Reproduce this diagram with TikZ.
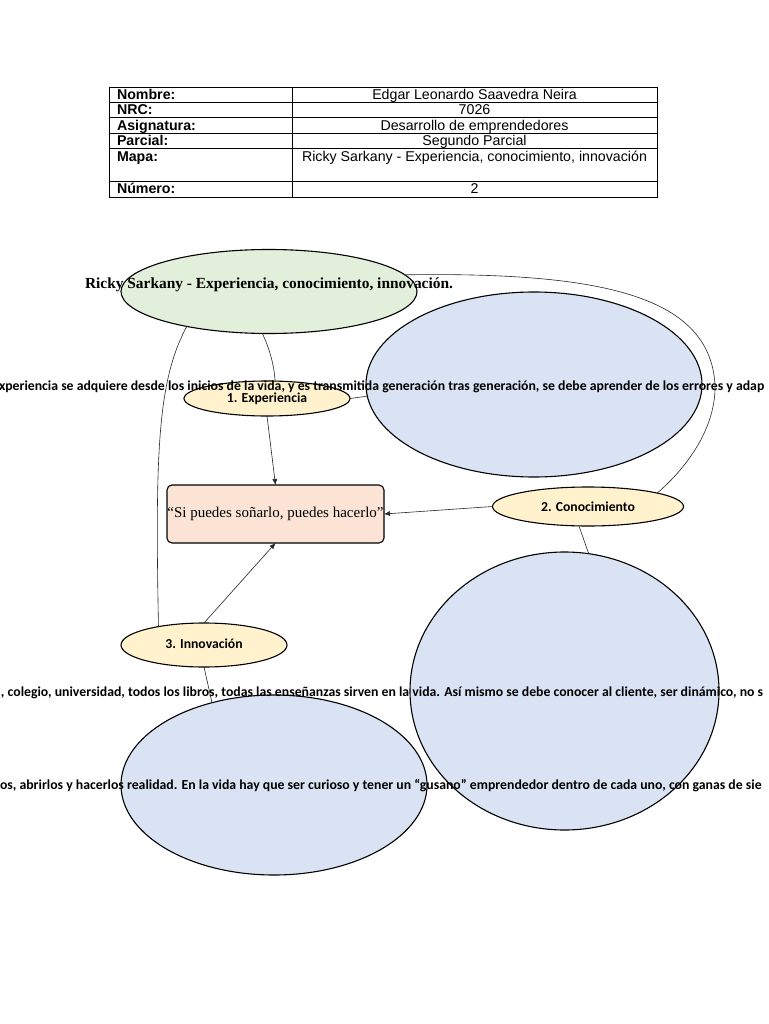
\documentclass[tikz,border=0pt]{standalone}
\usepackage{fontspec}
\setmainfont{Liberation Serif}
\newfontfamily\carl{Carlito}
\newfontfamily\arialf{Liberation Sans}
\usetikzlibrary{shapes.geometric,arrows.meta}
\definecolor{titlegreen}{HTML}{E2EFDA}
\definecolor{blueell}{HTML}{DAE3F3}
\definecolor{yellowell}{HTML}{FFF2CC}
\definecolor{peach}{HTML}{FBE4D5}
\begin{document}
\begin{tikzpicture}[x=1pt,y=-1pt,
  every node/.style={inner sep=0pt, outer sep=0pt},
  ell/.style={ellipse, draw=black, line width=1.1pt},
  bigell/.style={ell, fill=blueell},
  labell/.style={ell, fill=yellowell, font=\carl\bfseries\fontsize{13.7}{15}\selectfont},
  tlab/.style={anchor=base west, font=\arialf\bfseries\fontsize{14.2}{16}\selectfont},
  tval/.style={anchor=base, font=\arialf\fontsize{14.2}{16}\selectfont},
  bodytext/.style={anchor=west, font=\carl\bfseries\fontsize{13.76}{15}\selectfont},
  conn/.style={draw=black!85, line width=0.6pt},
  arr/.style={conn, -{Latex[length=6pt,width=5pt]}}]
\useasboundingbox (0,0) rectangle (768,1024);
\clip (0,0) rectangle (768,1024);
\fill[white] (0,0) rectangle (768,1024);

% table
\draw[line width=0.8pt] (109,87) rectangle (657,197);
\foreach \yy in {102,117,133,148,181} \draw[line width=0.8pt] (109,\yy) -- (657,\yy);
\draw[line width=0.8pt] (292,87) -- (292,197);
\node[tlab] (l1) at (117,99.5) {Nombre:};
\node[tlab] (l2) at (117,114.5) {NRC:};
\node[tlab] (l3) at (117,130.5) {Asignatura:};
\node[tlab] (l4) at (117,145.5) {Parcial:};
\node[tlab] (l5) at (117,161.5) {Mapa:};
\node[tlab] (l6) at (117,194) {Número:};
\node[tval] (v1) at (474.5,99.5) {Edgar Leonardo Saavedra Neira};
\node[tval] (v2) at (474.5,114.5) {7026};
\node[tval] (v3) at (474.5,130.5) {Desarrollo de emprendedores};
\node[tval] (v4) at (474.5,145.5) {Segundo Parcial};
\node[tval] (v5) at (474.5,161.5) {Ricky Sarkany - Experiencia, conocimiento, innovación};
\node[tval] (v6) at (474.5,194) {2};

% shapes
\node[ell, fill=titlegreen, minimum width=296pt, minimum height=84pt] (title) at (269,291.5) {};
\node[bigell, minimum width=336pt, minimum height=185pt] (blue1) at (534,384.5) {};
\node[bigell, minimum width=309pt, minimum height=278pt] (br) at (564.5,691) {};
\node[bigell, minimum width=306pt, minimum height=180pt] (bl) at (274,785) {};
\node[draw=black, line width=1.1pt, fill=peach, rounded corners=5pt, minimum width=217pt, minimum height=58pt] (frase) at (275.5,514) {};
\node[labell, minimum width=166pt, minimum height=35pt] (exp) at (267,398.5) {1. Experiencia};
\node[labell, minimum width=191pt, minimum height=39pt] (cono) at (588,506.5) {2. Conocimiento};
\node[labell, minimum width=166pt, minimum height=44pt] (inno) at (204,645) {\raisebox{3pt}{3. Innovación}};

% texts
\node[font=\bfseries\fontsize{15.4}{17}\selectfont] (titletext) at (269,284.5) {Ricky Sarkany - Experiencia, conocimiento, innovación.};
\node[font=\fontsize{15}{17}\selectfont] (frasetext) at (frase.center) {“Si puedes soñarlo, puedes hacerlo”};
\node[bodytext] (t1) at (-1,387) {xperiencia se adquiere desde los inicios de la vida, y es transmitida generación tras generación, se debe aprender de los errores y adap};
\node[bodytext] (t2) at (1,693) {, colegio, universidad, todos los libros, todas las enseñanzas sirven en la vida. Así mismo se debe conocer al cliente, ser dinámico, no s};
\node[bodytext] (t3) at (0,786) {os, abrirlos y hacerlos realidad. En la vida hay que ser curioso y tener un “gusano” emprendedor dentro de cada uno, con ganas de sie};

% connectors
\coordinate (bend1) at (715,385);
\draw[conn] (title.7) .. controls (600,272) and (710,295) .. (bend1)
  .. controls (716,425) and (690,465) .. (cono.11);
\draw[conn] (title.-157) .. controls (158,380) and (155,450) .. (inno.158);
\draw[conn] (title.-99) .. controls (270,350) and (274,365) .. (exp.65);
\draw[conn] (exp.east) -- (blue1.184);
\draw[arr] (exp.south) -- (frase.north);
\draw[arr] (cono.west) -- (frase.east);
\draw[arr] (inno.north) -- (frase.south);
\draw[conn] (cono.-115) -- (br.80);
\draw[conn] (inno.south) -- (bl.127);
\end{tikzpicture}
\end{document}
